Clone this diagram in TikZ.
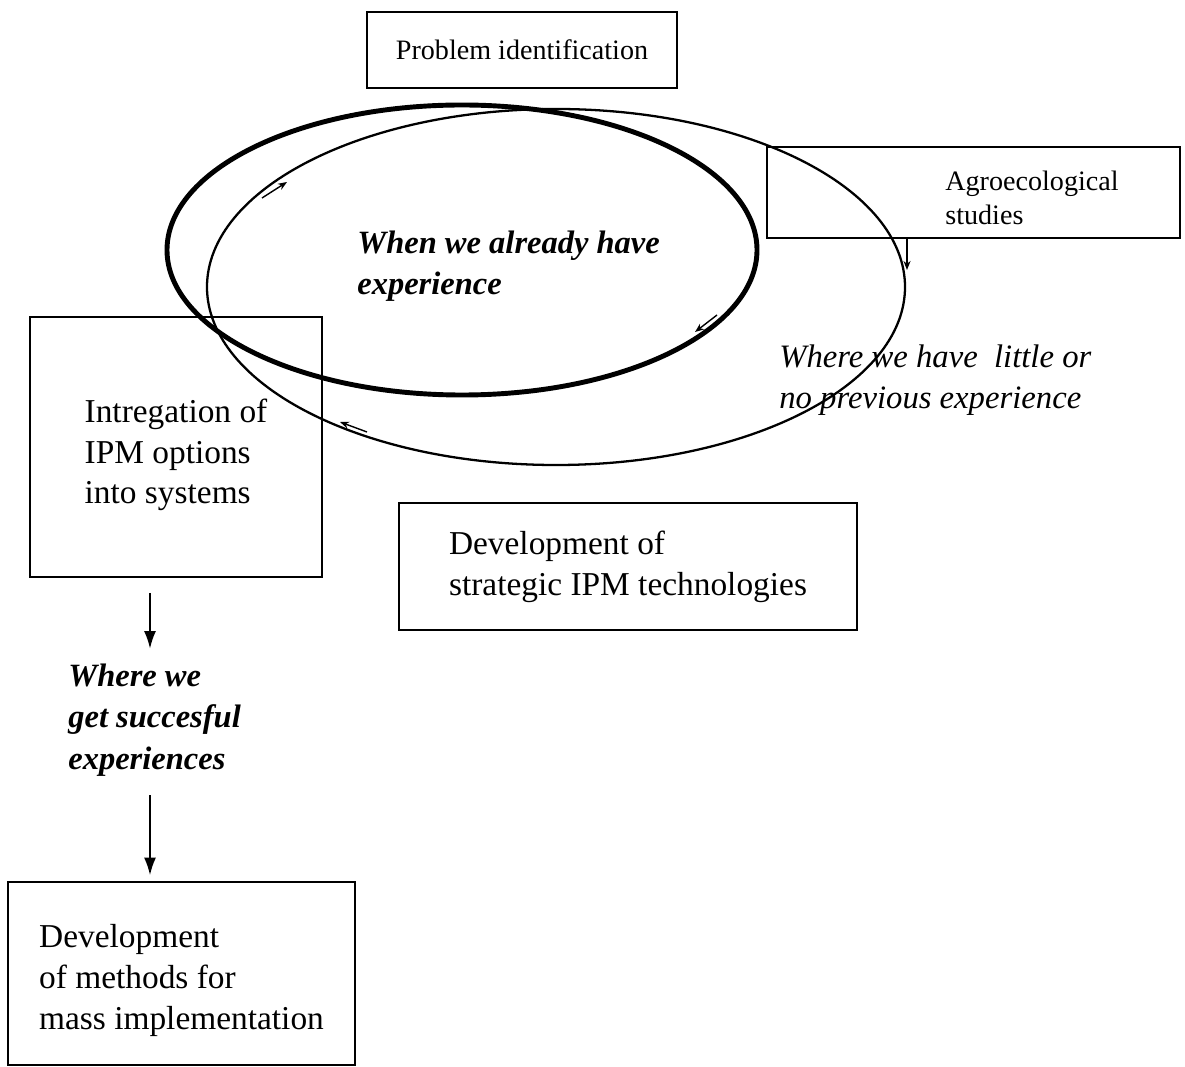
\documentclass[tikz,border=0pt]{standalone}
\usepackage{fontspec}
\setmainfont{Liberation Serif}
\usetikzlibrary{arrows.meta, positioning}

\begin{document}
\begin{tikzpicture}[
    x=0.2mm, y=-0.2mm,
    box/.style={draw, line width=1pt, inner sep=0pt, align=left},
    small/.style={font=\fontsize{16}{19.5}\selectfont},
    big/.style={font=\fontsize{19}{23.2}\selectfont},
    txt/.style={inner sep=0pt, align=left},
    emph/.style={txt, font=\fontsize{18.5}{23.5}\selectfont\bfseries\itshape},
    loose/.style={txt, font=\fontsize{18.6}{23.5}\selectfont\itshape},
    flow/.style={-{Latex[length=3.5mm,width=2.4mm]}, line width=1pt},
    tick/.style={-{Stealth[length=1.8mm,width=1.4mm]}, line width=0.8pt},
    >=Stealth
  ]
  \useasboundingbox (0,0) rectangle (1185,1067);

  % the two cycles
  \draw[line width=1.3pt] (556,287) ellipse [x radius=69.8mm, y radius=35.6mm];
  \draw[line width=2.8pt] (462,250) ellipse [x radius=59mm, y radius=29mm];
  \draw[tick] (262,198) -- (287,182);
  \draw[tick] (717,315) -- (695,332);
  \draw[tick] (367,432) -- (340,422);

  \node[box, small, minimum width=62mm, minimum height=15.2mm] (prob) at (522,50) {Problem identification};
  \node[box, minimum width=82.6mm, minimum height=18.2mm] (agro) at (973.5,192.5) {};
  \node[txt, small, anchor=west] (agrotxt) at (945,198) {Agroecological\\studies};
  \node[box, minimum width=58.4mm, minimum height=52mm] (intg) at (176,447) {};
  \node[txt, big] (intgtxt) at ([yshift=-1.6mm]intg.center) {Intregation of\\IPM options\\into systems};
  \node[box, big, minimum width=91.6mm, minimum height=25.4mm] (strat) at (628,566.5) {Development of\\strategic IPM technologies};
  \node[box, minimum width=69.4mm, minimum height=36.6mm] (meth) at (181.5,973.5) {};
  \node[txt, big] (methtxt) at ([yshift=-1.4mm]meth.center) {Development\\of methods for\\mass implementation};

  \node[emph, anchor=west] (have) at (357,266) {When we already have\\experience};
  \node[loose, anchor=west] (little) at (779,380) {Where we have\ \ little or\\no previous experience};
  \node[emph, anchor=west] (succ) at (68,720) {Where we\\get succesful\\experiences};

  % flow to mass implementation
  \coordinate (arrx) at (150,0);
  \coordinate (agend) at (907,270);
  \draw[flow] ([yshift=-3mm]intg.south -| arrx) -- ([yshift=3mm]succ.north -| arrx);
  \draw[flow] ([yshift=-3.8mm]succ.south -| arrx) -- ([yshift=1.2mm]meth.north -| arrx);
  \draw[tick] (agro.south -| agend) -- (agend);
\end{tikzpicture}
\end{document}
